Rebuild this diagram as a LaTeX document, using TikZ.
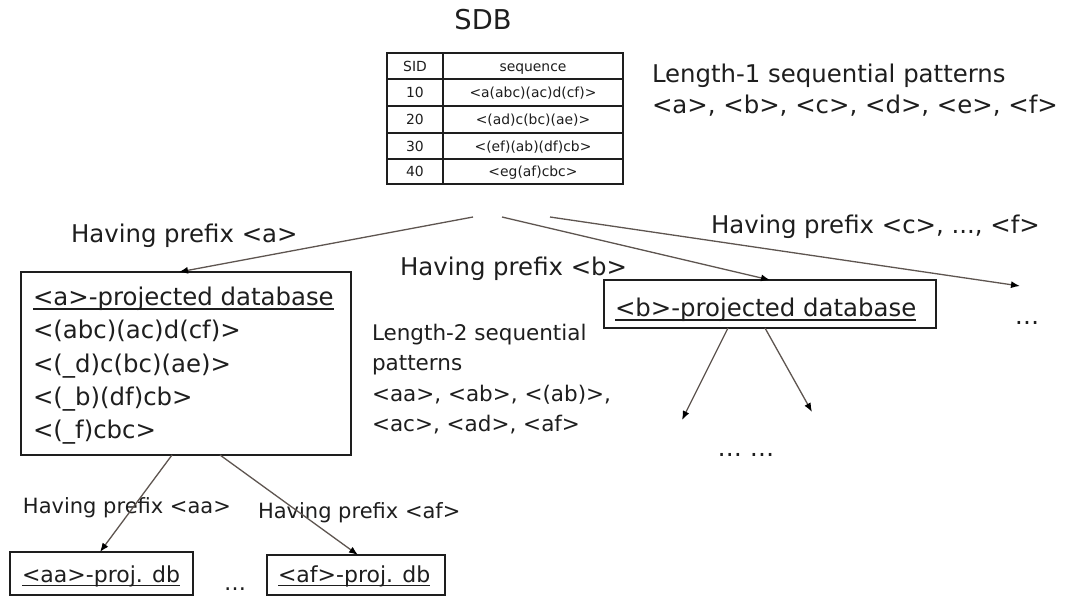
\documentclass[tikz,border=0pt]{standalone}
\usepackage{fontspec}
\setmainfont{DejaVu Sans}
\usetikzlibrary{arrows.meta}
\definecolor{ink}{HTML}{1E1E1E}
\definecolor{arrowc}{HTML}{5E5550}
\begin{document}
\begin{tikzpicture}[x=1pt,y=-1pt,
  every node/.style={inner sep=0pt, outer sep=0pt, text=ink},
  big/.style={font=\fontsize{24.4}{28}\selectfont},
  mid/.style={font=\fontsize{21.5}{25}\selectfont},
  sml/.style={font=\fontsize{21}{25}\selectfont},
  sub/.style={font=\fontsize{22}{25}\selectfont},
  tbl/.style={font=\fontsize{13.9}{16}\selectfont},
  bbox/.style={draw=ink, line width=2.6pt, anchor=north west},
  sbox/.style={draw=ink, line width=1.4pt, anchor=north west},
  tline/.style={draw=ink, line width=1.2pt},
  uline/.style={draw=ink, line width=1.8pt},
  arr/.style={draw=arrowc, line width=1.3pt, -{Latex[length=9pt,width=7pt,color=black]}},
]
\useasboundingbox[fill=white] (0,0) rectangle (1072,597);

% SDB title and table
\node[font=\fontsize{27.3}{30}\selectfont, anchor=base] (sdbt) at (483,30) {SDB};
\node[bbox, minimum width=236pt, minimum height=131pt] (sdb) at (387,53) {};
\draw[tline] (443,53) -- (443,184);
\foreach \yy in {79,106,133,159} \draw[tline] (387,\yy) -- (623,\yy);
\node[tbl, anchor=base] (h1) at (415,71) {SID};
\node[tbl, anchor=base] (h2) at (533,71) {sequence};
\node[tbl, anchor=base] (r1a) at (415,97.5) {10};
\node[tbl, anchor=base] (r1b) at (533,97.5) {<a(abc)(ac)d(cf)>};
\node[tbl, anchor=base] (r2a) at (415,124.5) {20};
\node[tbl, anchor=base] (r2b) at (533,124.5) {<(ad)c(bc)(ae)>};
\node[tbl, anchor=base] (r3a) at (415,151) {30};
\node[tbl, anchor=base] (r3b) at (533,151) {<(ef)(ab)(df)cb>};
\node[tbl, anchor=base] (r4a) at (415,176.5) {40};
\node[tbl, anchor=base] (r4b) at (533,176.5) {<eg(af)cbc>};

% Length-1
\node[big, anchor=base west] (l1a) at (652,82) {Length-1 sequential patterns};
\node[big, anchor=base west] (l1b) at (652,113) {<a>, <b>, <c>, <d>, <e>, <f>};

% arrow starts
\coordinate (sa) at (473,217);
\coordinate (sb) at (502,217);
\coordinate (sc) at (550,217);

% labels
\node[big, anchor=base west] (lpa) at (71,242) {Having prefix <a>};
\node[big, anchor=base west] (lpb) at (400,275) {Having prefix <b>};
\node[big, anchor=base west] (lpc) at (711,233) {Having prefix <c>, ..., <f>};

% <a>-projected database box
\node[bbox, minimum width=330pt, minimum height=183pt] (abox) at (21,272) {};
\node[big, anchor=base west] (at0) at (33,305) {<a>-projected database};
\draw[uline] ([yshift=-4pt]at0.base west) -- ([yshift=-4pt]at0.base east);
\node[big, anchor=base west] (at1) at (33,338.5) {<(abc)(ac)d(cf)>};
\node[big, anchor=base west] (at2) at (33,372) {<(\_d)c(bc)(ae)>};
\node[big, anchor=base west] (at3) at (33,405) {<(\_b)(df)cb>};
\node[big, anchor=base west] (at4) at (33,438) {<(\_f)cbc>};

% <b>-projected database box
\node[bbox, minimum width=332pt, minimum height=48pt] (bbx) at (604,280) {};
\node[big, anchor=base west] (bt) at (615,316) {<b>-projected database};
\draw[uline] ([yshift=-4pt]bt.base west) -- ([yshift=-4pt]bt.base east);
\node[big, anchor=base] (dr) at (1027,324) {…};

% Length-2
\node[mid, anchor=base west] (l2a) at (372,340) {Length-2 sequential};
\node[mid, anchor=base west] (l2b) at (372,370) {patterns};
\node[mid, anchor=base west] (l2c) at (372,401) {<aa>, <ab>, <(ab)>,};
\node[mid, anchor=base west] (l2d) at (372,431) {<ac>, <ad>, <af>};

% b children
\coordinate (eb1) at (682,420);
\coordinate (eb2) at (812,412);
\node[big, anchor=base] (dd) at (746,456) {… …};

% a children
\node[sml, anchor=base west] (lpaa) at (23,513) {Having prefix <aa>};
\node[sml, anchor=base west] (lpaf) at (258,518) {Having prefix <af>};
\node[sbox, minimum width=183pt, minimum height=43pt] (aabox) at (10,552) {};
\node[sub, anchor=base west] (aat) at (22,582) {<aa>-proj. db};
\draw[uline, line width=1.5pt] ([yshift=-3.5pt]aat.base west) -- ([yshift=-3.5pt]aat.base east);
\node[sbox, minimum width=178pt, minimum height=40pt] (afbox) at (267,555) {};
\node[sub, anchor=base west] (aft) at (278,582) {<af>-proj. db};
\draw[uline, line width=1.5pt] ([yshift=-3.5pt]aft.base west) -- ([yshift=-3.5pt]aft.base east);
\node[sub, anchor=base] (d3) at (235,590) {…};

% connectors
\draw[arr] (sa) -- ([xshift=158pt]abox.north west);
\draw[arr] (sb) -- ([xshift=166pt]bbx.north west);
\draw[arr] (sc) -- (1020,286);
\draw[arr] ([xshift=124pt]bbx.south west) -- (eb1);
\draw[arr] ([xshift=161pt]bbx.south west) -- (eb2);
\draw[arr] ([xshift=151pt]abox.south west) -- ([xshift=90pt]aabox.north west);
\draw[arr] ([xshift=199pt]abox.south west) -- ([xshift=91pt]afbox.north west);
\end{tikzpicture}
\end{document}
